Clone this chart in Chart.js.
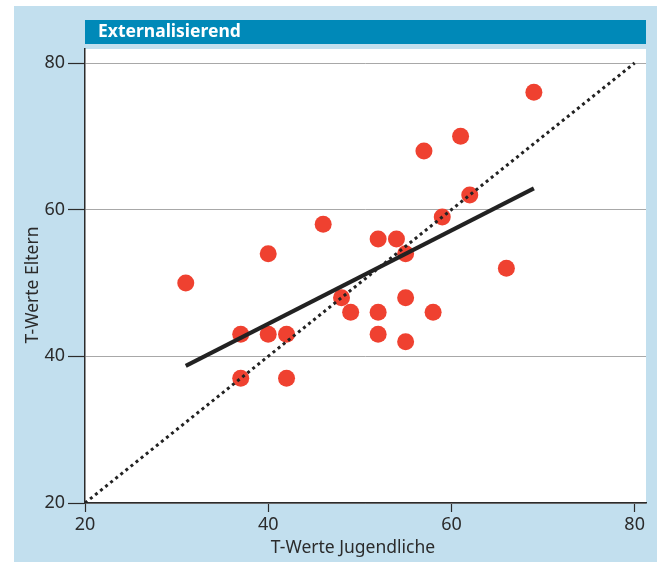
<!DOCTYPE html>
<html>
<head>
<meta charset="utf-8">
<script src="https://cdn.jsdelivr.net/npm/chart.js@4"></script>
<style>
  html, body { margin: 0; padding: 0; background: #fff; }
  canvas { display: block; }
</style>
</head>
<body>
<canvas id="chart" width="657" height="562"></canvas>
<script>
// Data
const teenScores = [31, 37, 37, 40, 40, 42, 42, 46, 48, 49, 52, 52, 52, 54, 55, 55, 55, 57, 58, 59, 61, 62, 66, 69];
const parentScores = [50, 43, 37, 54, 43, 43, 37, 58, 48, 46, 56, 46, 43, 56, 54, 48, 42, 68, 46, 59, 70, 62, 52, 76];
const regressionX = [31, 69];
const regressionY = [38.7, 62.9];
const identityX = [20, 80];
const identityY = [20, 80];
const tickValues = [20, 40, 60, 80];

const chartTitle = "Externalisierend";
const xTitle = "T-Werte Jugendliche";
const yTitle = "T-Werte Eltern";

const FONT = "'Noto Sans', 'Open Sans', sans-serif";
const panelBlue = "#c2dfee";
const barBlue = "#0089b8";
const ink = "#2b2b2b";

const toPoints = (xs, ys) => xs.map((x, i) => ({ x: x, y: ys[i] }));

// Background panel, title bar and white plot area
const backdrop = {
    id: "backdrop",
    beforeDraw(chart) {
        const ctx = chart.ctx;
        const a = chart.chartArea;
        ctx.save();
        ctx.fillStyle = "#fff";
        ctx.fillRect(0, 0, chart.width, chart.height);
        ctx.fillStyle = panelBlue;
        ctx.fillRect(14, 6, chart.width - 14, chart.height - 6);
        ctx.fillStyle = barBlue;
        ctx.fillRect(a.left, 20, a.right - a.left, 24);
        ctx.fillStyle = "#fff";
        ctx.fillRect(a.left, a.top, a.right - a.left, a.bottom - a.top);
        ctx.font = "bold 17.5px " + FONT;
        ctx.textBaseline = "middle";
        ctx.fillText(chartTitle, a.left + 13, 32);
        ctx.restore();
    },
    // axis titles sit a bit off the plot-area centre in the original
    afterDraw(chart) {
        const ctx = chart.ctx;
        ctx.save();
        ctx.fillStyle = ink;
        ctx.font = "17.5px " + FONT;
        ctx.textAlign = "center";
        ctx.textBaseline = "middle";
        ctx.fillText(xTitle, 353, 548);
        ctx.translate(33, 285);
        ctx.rotate(-Math.PI / 2);
        ctx.fillText(yTitle, 0, 0);
        ctx.restore();
    }
};

const fixTicks = scale => { scale.ticks = tickValues.map(v => ({ value: v })); };

new Chart(document.getElementById("chart"), {
    type: "scatter",
    data: {
        datasets: [
            {
                label: "Regression",
                type: "line",
                data: toPoints(regressionX, regressionY),
                borderColor: "#222",
                borderWidth: 4,
                pointRadius: 0,
                fill: false,
                order: 0
            },
            {
                label: "Identität",
                type: "line",
                data: toPoints(identityX, identityY),
                borderColor: "#222",
                borderWidth: 3,
                borderDash: [3, 3.5],
                pointRadius: 0,
                fill: false,
                order: 1
            },
            {
                label: "Werte",
                data: toPoints(teenScores, parentScores),
                backgroundColor: "#ef4130",
                borderWidth: 0,
                pointRadius: 8.5,
                order: 2
            }
        ]
    },
    options: {
        responsive: false,
        animation: false,
        devicePixelRatio: 1,
        layout: { padding: { top: 49, right: 11, left: 0, bottom: 0 } },
        plugins: {
            legend: { display: false },
            tooltip: { enabled: false }
        },
        scales: {
            x: {
                type: "linear",
                min: 20,
                max: 81.24,
                afterBuildTicks: fixTicks,
                afterFit: s => { s.height = 59; },
                border: { color: ink, width: 1.5 },
                grid: { drawOnChartArea: false, tickLength: 9, tickColor: ink, tickWidth: 1.2 },
                ticks: { color: ink, padding: 2, font: { family: FONT, size: 18 } }
            },
            y: {
                type: "linear",
                min: 20,
                max: 81.91,
                afterBuildTicks: fixTicks,
                afterFit: s => { s.width = 85; },
                border: { color: ink, width: 1.5 },
                grid: { color: "#a8a8a8", lineWidth: 1, tickLength: 17, tickColor: ink, tickWidth: 1.2 },
                ticks: { color: ink, padding: 3, font: { family: FONT, size: 18 } }
            }
        }
    },
    plugins: [backdrop]
});
</script>
</body>
</html>
